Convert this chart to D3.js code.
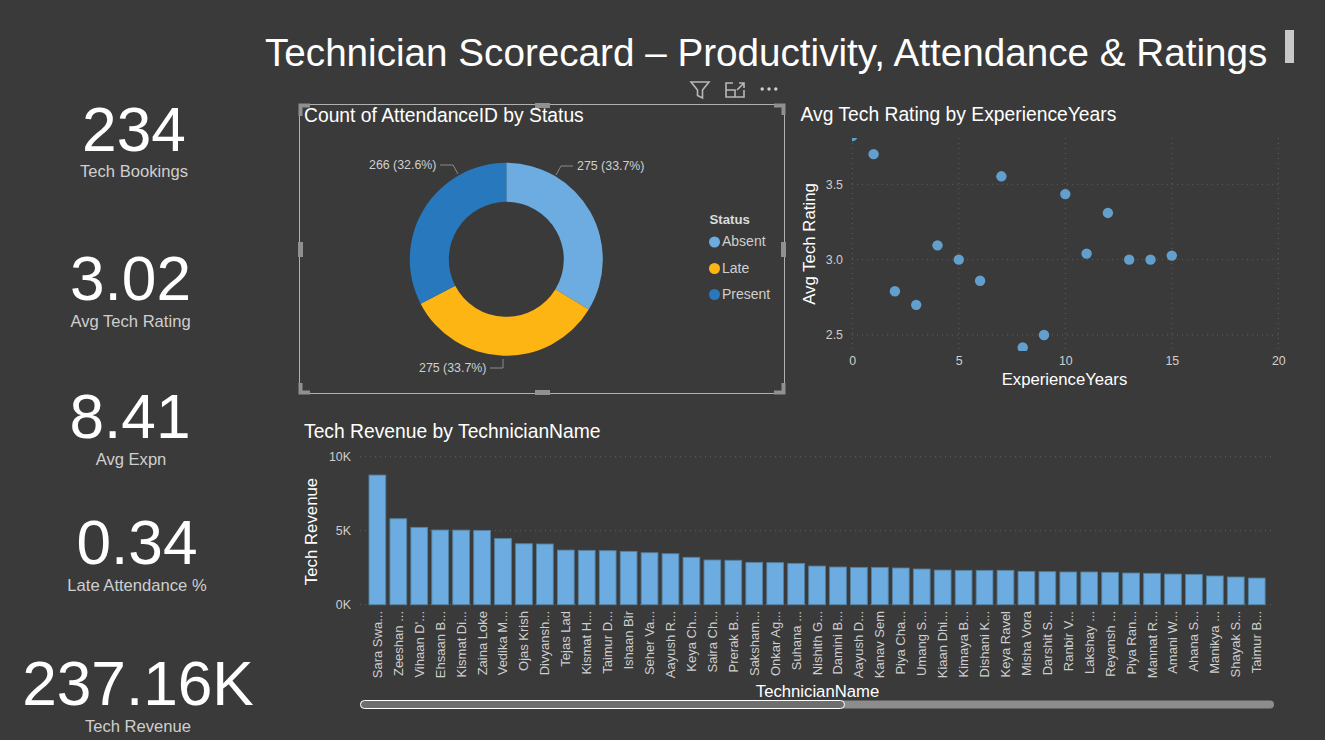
<!DOCTYPE html>
<html><head><meta charset="utf-8">
<script src="https://cdn.jsdelivr.net/npm/d3@7"></script>
<style>
html,body{margin:0;padding:0;background:#3a3a3a;overflow:hidden}
svg{display:block}
text{font-family:"Liberation Sans",Arial,sans-serif}
</style></head><body>
<svg id="c" width="1325" height="740"></svg>
<script>
const kpiValues=["234","3.02","8.41","0.34","237.16K"];
const kpiLabels=["Tech Bookings","Avg Tech Rating","Avg Expn","Late Attendance %","Tech Revenue"];
const statusNames=["Absent","Late","Present"];
const statusCounts=[275,275,266];
const statusLabels=["275 (33.7%)","275 (33.7%)","266 (32.6%)"];
const statusColors=["#6cace0","#fdb514","#2878bd"];
const expYears=[0,1,2,3,4,5,6,7,8,9,10,11,12,13,14,15];
const avgRatings=[3.82,3.70,2.79,2.70,3.095,3.0,2.86,3.553,2.417,2.5,3.435,3.04,3.31,3.0,3.0,3.027];
const ratingTicks=[2.5,3.0,3.5];
const expTicks=[0,5,10,15,20];
const techNames=["Sara Swa...","Zeeshan ...","Vihaan D'...","Ehsaan B...","Kismat Di...","Zaina Loke","Vedika M...","Ojas Krish","Divyansh...","Tejas Lad","Kismat H...","Taimur D...","Ishaan Bir","Seher Va...","Aayush R...","Keya Ch...","Saira Ch...","Prerak B...","Saksham...","Onkar Ag...","Suhana ...","Nishith G...","Damini B...","Aayush D...","Kanav Sem","Piya Cha...","Umang S...","Kiaan Dhi...","Kimaya B...","Dishani K...","Keya Ravel","Misha Vora","Darshit S...","Ranbir V...","Lakshay ...","Reyansh ...","Piya Ran...","Mannat R...","Amani W...","Ahana S...","Manikya ...","Shayak S...","Taimur B..."];
const techRevenue=[8760,5810,5225,5045,5040,5020,4480,4120,4100,3690,3670,3650,3600,3510,3445,3200,3020,3000,2860,2840,2790,2610,2545,2520,2520,2480,2410,2340,2320,2320,2320,2250,2230,2210,2210,2185,2140,2120,2070,2050,1940,1870,1800];
const revenueTicks=[0,5000,10000];

const svg=d3.select("#c");
const TXT="#fff",MUT="#cfcfcf",GRID="#5f5f5f";
function t(x,y,s,size,fill,anchor,extra){
  const e=svg.append("text").attr("x",x).attr("y",y).attr("font-size",size).attr("fill",fill).attr("text-anchor",anchor||"start").text(s);
  if(extra)extra(e);return e;
}
// Header
t(265,65.5,"Technician Scorecard – Productivity, Attendance & Ratings",38.65,TXT);
svg.append("rect").attr("x",1285).attr("y",30).attr("width",9).attr("height",33).attr("fill","#c8c8c8");

// KPI cards
const kpiX=[134,130.5,130,137,138],kpiY=[151,300,438,564,705],kpiLY=[177,327,465,591,732];
kpiValues.forEach((v,i)=>{
  t(kpiX[i],kpiY[i],v,62.2,TXT,"middle");
  t(kpiX[i]+(i==2?1:0),kpiLY[i],kpiLabels[i],16.6,MUT,"middle");
});

// Donut
t(304,121.5,"Count of AttendanceID by Status",19.3,TXT);
const cx=506.3,cy=259.3;
const pie=d3.pie().sort(null)(statusCounts);
const arc=d3.arc().innerRadius(57.5).outerRadius(96.5);
const gD=svg.append("g").attr("transform",`translate(${cx},${cy})`);
gD.selectAll("path").data(pie).join("path").attr("d",arc).attr("fill",(d,i)=>statusColors[i]);
// leader lines
const leaders=[
  [[556,175],[561,166],[573,166]],
  [[503,359],[503,368],[490,368]],
  [[458,174],[453,165],[440,165]]
];
const line=d3.line();
leaders.forEach(p=>svg.append("path").attr("d",line(p)).attr("fill","none").attr("stroke","#8a8a8a").attr("stroke-width",1));
t(577,170,statusLabels[0],12.4,MUT);
t(486.5,372,statusLabels[1],12.4,MUT,"end");
t(436.5,169,statusLabels[2],12.4,MUT,"end");
// Legend
t(709.5,224,"Status",13.2,"#dcdcdc",null,e=>e.attr("font-weight","bold"));
const legY=[242,268.5,294.5];
statusNames.forEach((n,i)=>{
  svg.append("circle").attr("cx",714.5).attr("cy",legY[i]).attr("r",5.5).attr("fill",statusColors[i]);
  t(722,legY[i]+4,n,14,MUT);
});
// selection frame
svg.append("rect").attr("x",299.5).attr("y",104.5).attr("width",485).attr("height",289).attr("fill","none").attr("stroke","#b0b0b0").attr("stroke-width",1);
const HC="#909090";
function corner(p){svg.append("path").attr("d",line(p)).attr("fill","none").attr("stroke",HC).attr("stroke-width",4);}
corner([[300.5,116],[300.5,105.5],[310,105.5]]);corner([[774,105.5],[783.5,105.5],[783.5,115]]);
corner([[300.5,383],[300.5,392.5],[310,392.5]]);corner([[774,392.5],[783.5,392.5],[783.5,383]]);
[[535,103,15,5],[535,390,15,5],[298,242,5,15],[781,242,5,15]].forEach(r=>svg.append("rect").attr("x",r[0]).attr("y",r[1]).attr("width",r[2]).attr("height",r[3]).attr("fill",HC));
// header icons
svg.append("path").attr("d","M691 82H709L702.5 90V98L697.5 95.5V90Z").attr("fill","none").attr("stroke","#b8b8b8").attr("stroke-width",1.6);
svg.append("path").attr("d","M733 83H726V97H744V90M726 90H735V97M737 90L744 83M739 83H744V88").attr("fill","none").attr("stroke","#b8b8b8").attr("stroke-width",1.6);
[-8,0,8].forEach(d=>svg.append("circle").attr("cx",769+d*.85).attr("cy",89).attr("r",1.7).attr("fill","#d0d0d0"));

// Scatter
t(800.5,120.5,"Avg Tech Rating by ExperienceYears",19.3,TXT);
const sx=d3.scaleLinear().domain([0,20]).range([852.3,1278.3]);
const sy=d3.scaleLinear().domain([2.5,3.5]).range([335,184.3]);
const sTop=138,sBot=351;
svg.append("defs").append("clipPath").attr("id","sc").append("rect").attr("x",852).attr("y",sTop).attr("width",430).attr("height",sBot-sTop);
const grid=(x1,y1,x2,y2)=>svg.append("line").attr("x1",x1).attr("y1",y1).attr("x2",x2).attr("y2",y2).attr("stroke",GRID).attr("stroke-width",1).attr("stroke-dasharray","1 4");
expTicks.forEach(v=>grid(sx(v),sTop,sx(v),sBot));
ratingTicks.forEach(v=>grid(852,sy(v),1279,sy(v)));
const gx=svg.append("g").attr("transform","translate(0,350)").call(d3.axisBottom(sx).tickValues(expTicks).tickSize(0).tickPadding(6));
const gy=svg.append("g").attr("transform","translate(852,0)").call(d3.axisLeft(sy).tickValues(ratingTicks).tickFormat(d3.format(".1f")).tickSize(0).tickPadding(9));
[gx,gy].forEach(g=>{g.select(".domain").remove();g.selectAll("text").attr("fill",MUT).attr("font-size",12.4).attr("font-family",'"Liberation Sans",Arial,sans-serif');});
svg.append("g").attr("clip-path","url(#sc)").selectAll("circle").data(expYears).join("circle")
  .attr("cx",d=>sx(d)).attr("cy",(d,i)=>sy(avgRatings[i])).attr("r",5.2).attr("fill","#629fcc");
t(1064.5,385,"ExperienceYears",16.7,TXT,"middle");
t(0,0,"Avg Tech Rating",16.8,TXT,"middle",e=>e.attr("transform","translate(815,244) rotate(-90)"));

// Bars
t(304,437.5,"Tech Revenue by TechnicianName",19.3,TXT);
const bx=d3.scaleBand().domain(techNames).range([366.9,1267.2]).paddingInner(.2).paddingOuter(.1);
const by=d3.scaleLinear().domain([0,10000]).range([604.7,456.7]);
revenueTicks.forEach(v=>grid(360,by(v),1273,by(v)));
svg.append("g").attr("transform","translate(360,0)").call(d3.axisLeft(by).tickValues(revenueTicks).tickFormat(d=>d/1000+"K").tickSize(0).tickPadding(9))
  .call(g=>{g.select(".domain").remove();g.selectAll("text").attr("fill",MUT).attr("font-size",12.4).attr("font-family",'"Liberation Sans",Arial,sans-serif');});
svg.append("g").selectAll("rect").data(techNames).join("rect")
  .attr("x",d=>bx(d)).attr("width",bx.bandwidth()).attr("y",(d,i)=>by(techRevenue[i])).attr("height",(d,i)=>by(0)-by(techRevenue[i]))
  .attr("fill","#6cace0").attr("stroke","#55819f").attr("stroke-width",.9);
techNames.forEach(n=>{
  svg.append("text").attr("transform",`translate(${bx(n)+bx.bandwidth()/2+4.5},611) rotate(-90)`).attr("text-anchor","end").attr("font-size",13).attr("fill",MUT).text(n);
});
t(817.5,697,"TechnicianName",16.7,TXT,"middle");
t(0,0,"Tech Revenue",16.8,TXT,"middle",e=>e.attr("transform","translate(317,531.5) rotate(-90)"));
// Scrollbar
svg.append("rect").attr("x",360).attr("y",700.5).attr("width",914).attr("height",8).attr("rx",4).attr("fill","#8c8c8c");
svg.append("rect").attr("x",360.5).attr("y",700.5).attr("width",484).attr("height",8).attr("rx",4).attr("fill","#6e6e6e").attr("stroke","#fff").attr("stroke-width",1);
</script></body></html>
